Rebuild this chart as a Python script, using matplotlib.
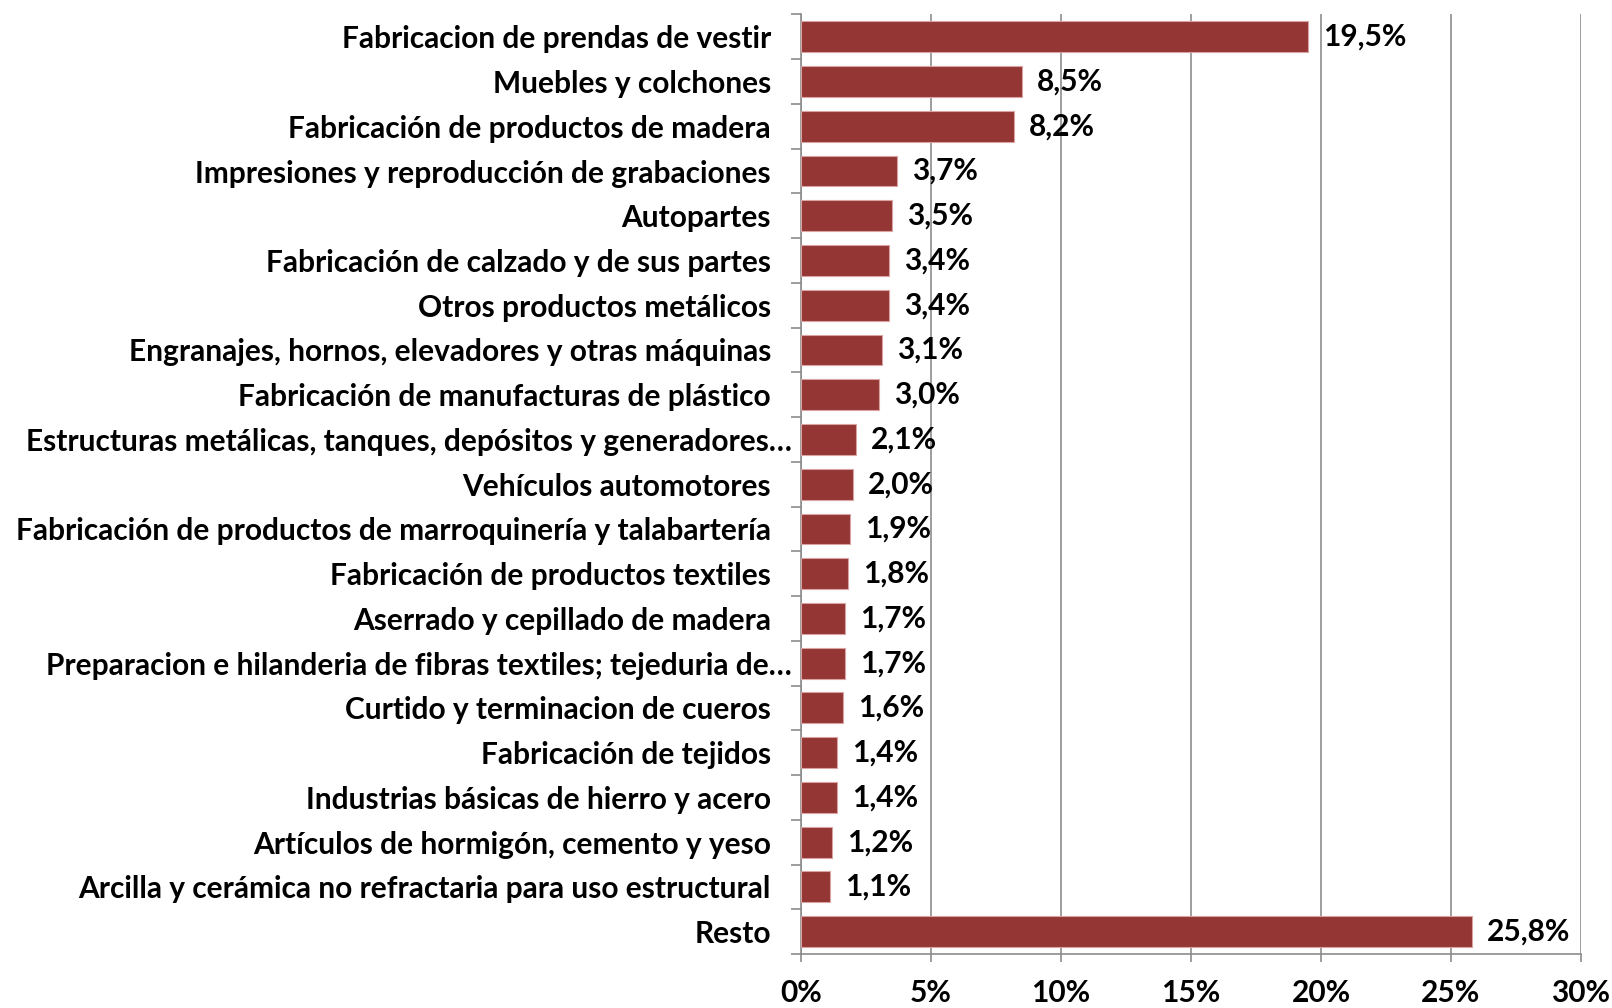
import matplotlib
matplotlib.use("Agg")
import matplotlib.pyplot as plt
from matplotlib.transforms import ScaledTranslation
from matplotlib.ticker import FuncFormatter

categories = [
    "Fabricacion de prendas de vestir",
    "Muebles y colchones",
    "Fabricación de productos de madera",
    "Impresiones y reproducción de grabaciones",
    "Autopartes",
    "Fabricación de calzado y de sus partes",
    "Otros productos metálicos",
    "Engranajes, hornos, elevadores y otras máquinas",
    "Fabricación de manufacturas de plástico",
    "Estructuras metálicas, tanques, depósitos y generadores…",
    "Vehículos automotores",
    "Fabricación de productos de marroquinería y talabartería",
    "Fabricación de productos textiles",
    "Aserrado y cepillado de madera",
    "Preparacion e hilanderia de fibras textiles; tejeduria de…",
    "Curtido y terminacion de cueros",
    "Fabricación de tejidos",
    "Industrias básicas de hierro y acero",
    "Artículos de hormigón, cemento y yeso",
    "Arcilla y cerámica no refractaria para uso estructural",
    "Resto",
]
values = [19.5, 8.5, 8.2, 3.7, 3.5, 3.4, 3.4, 3.1, 3.0, 2.1, 2.0, 1.9, 1.8, 1.7, 1.7, 1.6, 1.4, 1.4, 1.2, 1.1, 25.8]
xticks = [0, 5, 10, 15, 20, 25, 30]

plt.rcParams['font.family'] = ['Lato', 'DejaVu Sans']
FS = 21.5

fig = plt.figure(figsize=(16.12, 10.08), dpi=100)
ax = fig.add_axes([801/1612, 1-954/1008, 780/1612, (954-14.4)/1008])

ypos = list(range(len(categories)))
ax.barh(ypos, values, height=0.69, color="#943634", edgecolor="#d9a3a2", linewidth=0.8, zorder=3)
ax.set_ylim(len(categories)-0.5, -0.5)
ax.set_xlim(0, 30)

for y, v in zip(ypos, values):
    ax.annotate(f"{v:.1f}%".replace(".", ","), (v, y), xytext=(15, 0), textcoords="offset pixels",
                ha="left", va="center", fontsize=FS, fontweight="bold", color="black", zorder=4)

ax.set_xticks(xticks)
ax.xaxis.set_major_formatter(FuncFormatter(lambda x, p: f"{int(x)}%"))
ax.grid(axis="x", color="#8c8c8c", linewidth=1.2, zorder=0)
ax.set_axisbelow(True)

ax.set_yticks(ypos)
ax.set_yticklabels(categories)
ax.set_yticks([i - 0.5 for i in range(len(categories)+1)], minor=True)
ax.tick_params(axis="y", which="major", length=0, pad=21.6, labelsize=FS)
ax.tick_params(axis="y", which="minor", length=7, width=1.2, color="#8c8c8c", direction="out")
ax.tick_params(axis="x", which="major", length=6, width=1.2, color="#8c8c8c", direction="out", pad=12, labelsize=FS)
for lab in ax.get_yticklabels():
    lab.set_fontweight("bold")
    if lab.get_text().endswith("…"):
        lab.set_transform(lab.get_transform() + ScaledTranslation(21/100, 0, fig.dpi_scale_trans))
for lab in ax.get_xticklabels():
    lab.set_fontweight("bold")

for s in ["top", "right"]:
    ax.spines[s].set_visible(False)
for s in ["left", "bottom"]:
    ax.spines[s].set_color("#8c8c8c")
    ax.spines[s].set_linewidth(1.2)

fig.savefig("out.png", dpi=100)
